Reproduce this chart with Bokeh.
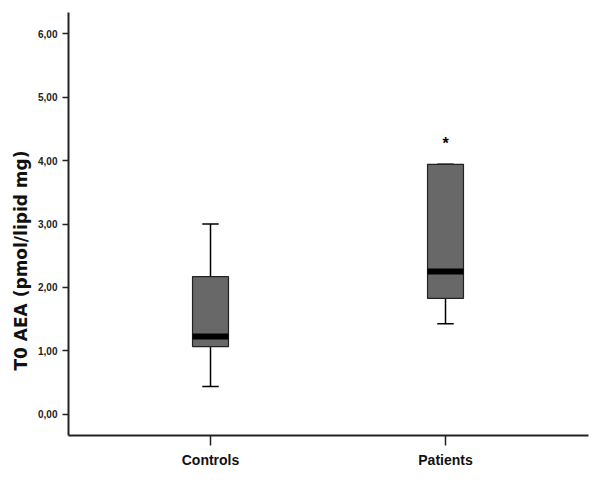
from bokeh.plotting import figure
from bokeh.models import Range1d, FixedTicker, CustomJSTickFormatter, Title
from bokeh.core.properties import value
from bokeh.embed import file_html
from bokeh.resources import INLINE

# Dane
groups = ["Controls", "Patients"]
xpos = [1, 2]
q1 = [1.07, 1.83]
median = [1.23, 2.25]
q3 = [2.17, 3.94]
lower = [0.44, 1.43]
upper = [3.00, 3.94]
outlier_x = [2]
outlier_y = [4.33]
yticks = [0, 1, 2, 3, 4, 5, 6]

box_w = 0.153
cap_w = 0.07

p = figure(width=600, height=480, output_backend="svg", toolbar_location=None,
           x_range=Range1d(0.3957, 2.6085), y_range=Range1d(-0.331, 6.331),
           min_border_left=68, min_border_right=12, min_border_top=12,
           min_border_bottom=45)
p.outline_line_color = None
p.xgrid.visible = False
p.ygrid.visible = False
p.background_fill_color = "white"

# wąsy
p.segment(x0=xpos, y0=lower, x1=xpos, y1=q1, line_color="black", line_width=1.5)
p.segment(x0=xpos, y0=q3, x1=xpos, y1=upper, line_color="black", line_width=1.5)
p.segment(x0=[x - cap_w / 2 for x in xpos], y0=lower,
          x1=[x + cap_w / 2 for x in xpos], y1=lower, line_color="black", line_width=1.5)
p.segment(x0=[x - cap_w / 2 for x in xpos], y0=upper,
          x1=[x + cap_w / 2 for x in xpos], y1=upper, line_color="black", line_width=1.5)

# pudełka
p.vbar(x=xpos, width=box_w, bottom=q1, top=q3, fill_color="#686868",
       line_color="#222222", line_width=1.2)

# mediana
p.segment(x0=[x - box_w / 2 for x in xpos], y0=median,
          x1=[x + box_w / 2 for x in xpos], y1=median, line_color="black", line_width=6)

# wartość skrajna
p.text(x=outlier_x, y=outlier_y, text=["*"], text_align="center", text_baseline="middle",
       y_offset=4, text_font=value("Liberation Sans"), text_font_style="bold",
       text_font_size="16px", text_color="black")

# oś Y
p.yaxis.ticker = FixedTicker(ticks=yticks)
p.yaxis.formatter = CustomJSTickFormatter(code="return tick.toFixed(2).replace('.', ',');")
p.yaxis.minor_tick_line_color = None
p.yaxis.major_tick_in = 0
p.yaxis.major_tick_out = 6
p.yaxis.major_label_standoff = 5
p.yaxis.axis_line_width = 2
p.yaxis.axis_line_color = "#222222"
p.yaxis.major_tick_line_color = "#222222"
p.yaxis.major_tick_line_width = 1.5
p.yaxis.major_label_text_font = "Liberation Sans"
p.yaxis.major_label_text_font_style = "bold"
p.yaxis.major_label_text_font_size = "10px"
p.yaxis.major_label_text_color = "#222222"

# oś X
p.xaxis.ticker = FixedTicker(ticks=xpos)
p.xaxis.major_label_overrides = {x: g for x, g in zip(xpos, groups)}
p.xaxis.minor_tick_line_color = None
p.xaxis.major_tick_in = 0
p.xaxis.major_tick_out = 10
p.xaxis.major_label_standoff = 6
p.xaxis.axis_line_width = 2
p.xaxis.axis_line_color = "#222222"
p.xaxis.major_tick_line_color = "#222222"
p.xaxis.major_tick_line_width = 1.5
p.xaxis.major_label_text_font = "Liberation Sans"
p.xaxis.major_label_text_font_style = "bold"
p.xaxis.major_label_text_font_size = "14px"
p.xaxis.major_label_text_color = "#111111"

# podpis osi Y
ylab = Title(text="T0 AEA (pmol/lipid mg)", align="left", offset=65,
             text_font="DejaVu Sans", text_font_style="bold", text_font_size="17px",
             text_color="#111111")
p.add_layout(ylab, "left")

open("out.html", "w").write(file_html(p, INLINE))
